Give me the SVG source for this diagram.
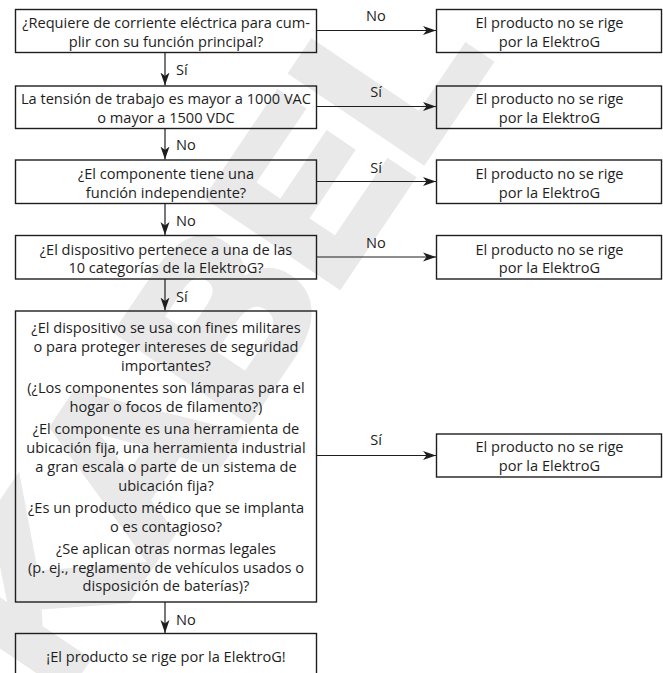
<svg xmlns="http://www.w3.org/2000/svg" width="663" height="673" viewBox="0 0 663 673">
<defs>
<style>
.box{fill:none;stroke:#1e1e1e;stroke-width:1.4}
.t{font-family:"Open Sans","Noto Sans","Liberation Sans",sans-serif;font-size:14.6px;fill:#1e1e1e;text-anchor:middle}
.lb{font-family:"Open Sans","Noto Sans","Liberation Sans",sans-serif;font-size:14.6px;fill:#1e1e1e}
.c{fill:none;stroke:#1e1e1e;stroke-width:1.2}
.wm{font-family:"Liberation Sans",sans-serif;font-weight:bold;font-size:225px;fill:#e9e9e9;stroke:#e9e9e9;stroke-width:10;stroke-linejoin:miter;text-anchor:middle}
</style>
<marker id="ah" markerWidth="14" markerHeight="10" refX="13" refY="5" orient="auto" markerUnits="userSpaceOnUse">
<path d="M0,0.5 L13,5 L0,9.5 L3.5,5 z" fill="#1e1e1e"/>
</marker>
</defs>
<rect width="663" height="673" fill="#ffffff"/>
<g id="watermark">
<text class="wm" transform="translate(210,335) rotate(-56)" dominant-baseline="central">KABEL</text>
</g>
<g id="connectors">
<line class="c" x1="316.5" y1="30.5" x2="436" y2="30.5" marker-end="url(#ah)"/>
<text class="lb" x="376" y="21" text-anchor="middle">No</text>
<line class="c" x1="316.5" y1="106.5" x2="436" y2="106.5" marker-end="url(#ah)"/>
<text class="lb" x="376" y="97" text-anchor="middle">Sí</text>
<line class="c" x1="316.5" y1="181.5" x2="436" y2="181.5" marker-end="url(#ah)"/>
<text class="lb" x="376" y="172.5" text-anchor="middle">Sí</text>
<line class="c" x1="316.5" y1="257" x2="436" y2="257" marker-end="url(#ah)"/>
<text class="lb" x="376" y="247.5" text-anchor="middle">No</text>
<line class="c" x1="316.5" y1="455.5" x2="436" y2="455.5" marker-end="url(#ah)"/>
<text class="lb" x="376" y="445" text-anchor="middle">Sí</text>
<line class="c" x1="165" y1="52.5" x2="165" y2="85.5" marker-end="url(#ah)"/>
<text class="lb" x="176" y="75">Sí</text>
<line class="c" x1="165" y1="128.5" x2="165" y2="159.5" marker-end="url(#ah)"/>
<text class="lb" x="176" y="150">No</text>
<line class="c" x1="165" y1="203.5" x2="165" y2="235" marker-end="url(#ah)"/>
<text class="lb" x="176" y="226">No</text>
<line class="c" x1="165" y1="279" x2="165" y2="310.5" marker-end="url(#ah)"/>
<text class="lb" x="176" y="302">Sí</text>
<line class="c" x1="165" y1="602" x2="165" y2="633" marker-end="url(#ah)"/>
<text class="lb" x="176" y="625">No</text>
</g>
<g id="q1">
<rect class="box" x="15.5" y="9.5" width="301" height="43"/>
<text class="t" x="166" y="27.8">¿Requiere de corriente eléctrica para cum-</text>
<text class="t" x="166" y="46.6">plir con su función principal?</text>
</g>
<g id="q2">
<rect class="box" x="15.5" y="86" width="301" height="42.5"/>
<text class="t" x="166" y="104.2">La tensión de trabajo es mayor a 1000 VAC</text>
<text class="t" x="166" y="122.5">o mayor a 1500 VDC</text>
</g>
<g id="q3">
<rect class="box" x="15.5" y="160" width="301" height="43.5"/>
<text class="t" x="166" y="178.8">¿El componente tiene una</text>
<text class="t" x="166" y="197.5">función independiente?</text>
</g>
<g id="q4">
<rect class="box" x="15.5" y="235.5" width="301" height="43.5"/>
<text class="t" x="166" y="254.8">¿El dispositivo pertenece a una de las</text>
<text class="t" x="166" y="273.3">10 categorías de la ElektroG?</text>
</g>
<g id="q5">
<rect class="box" x="15.5" y="311" width="301" height="291"/>
<text class="t" x="166" y="333.3">¿El dispositivo se usa con fines militares</text>
<text class="t" x="166" y="352.2">o para proteger intereses de seguridad</text>
<text class="t" x="166" y="371.1">importantes?</text>
<text class="t" x="166" y="393.1">(¿Los componentes son lámparas para el</text>
<text class="t" x="166" y="412">hogar o focos de filamento?)</text>
<text class="t" x="166" y="434">¿El componente es una herramienta de</text>
<text class="t" x="166" y="452.9">ubicación fija, una herramienta industrial</text>
<text class="t" x="166" y="471.8">a gran escala o parte de un sistema de</text>
<text class="t" x="166" y="490.7">ubicación fija?</text>
<text class="t" x="166" y="512.7">¿Es un producto médico que se implanta</text>
<text class="t" x="166" y="531.6">o es contagioso?</text>
<text class="t" x="166" y="553.6">¿Se aplican otras normas legales</text>
<text class="t" x="166" y="572.5">(p. ej., reglamento de vehículos usados o</text>
<text class="t" x="166" y="591.4">disposición de baterías)?</text>
</g>
<g id="result">
<rect class="box" x="15.5" y="633.5" width="301" height="60"/>
<text class="t" x="166" y="662">¡El producto se rige por la ElektroG!</text>
</g>
<g id="r1">
<rect class="box" x="436.5" y="9.5" width="225" height="43"/>
<text class="t" x="549.5" y="27.8">El producto no se rige</text>
<text class="t" x="549.5" y="46.6">por la ElektroG</text>
</g>
<g id="r2">
<rect class="box" x="436.5" y="86" width="225" height="42.5"/>
<text class="t" x="549.5" y="104.2">El producto no se rige</text>
<text class="t" x="549.5" y="122.5">por la ElektroG</text>
</g>
<g id="r3">
<rect class="box" x="436.5" y="160" width="225" height="43.5"/>
<text class="t" x="549.5" y="178.8">El producto no se rige</text>
<text class="t" x="549.5" y="197.5">por la ElektroG</text>
</g>
<g id="r4">
<rect class="box" x="436.5" y="235.5" width="225" height="43.5"/>
<text class="t" x="549.5" y="254.8">El producto no se rige</text>
<text class="t" x="549.5" y="273.3">por la ElektroG</text>
</g>
<g id="r5">
<rect class="box" x="436.5" y="434" width="225" height="43"/>
<text class="t" x="549.5" y="452.3">El producto no se rige</text>
<text class="t" x="549.5" y="471">por la ElektroG</text>
</g>
</svg>
